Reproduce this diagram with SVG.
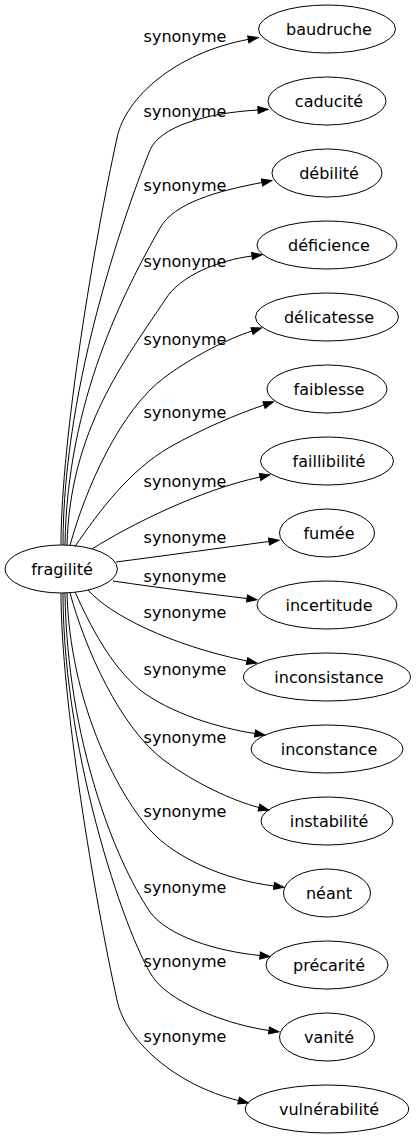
<svg xmlns="http://www.w3.org/2000/svg" width="416" height="1139" viewBox="0 0 416 1139">
<style>
.n ellipse{fill:none;stroke:#000;stroke-width:1}
.n text{font-family:"DejaVu Sans",sans-serif;font-size:16px;fill:#000;text-anchor:middle}
.e path{fill:none;stroke:#000;stroke-width:1;marker-end:url(#ah)}
.e text{font-family:"DejaVu Sans",sans-serif;font-size:16px;fill:#000;text-anchor:middle}
</style>
<defs>
<marker id="ah" markerUnits="userSpaceOnUse" markerWidth="11" markerHeight="8" refX="0" refY="3.5" orient="auto" overflow="visible">
<path d="M0,0 L10,3.5 L0,7 z" fill="#000" stroke="#000" stroke-width="1"/>
</marker>
</defs>
<rect width="416" height="1139" fill="#fff"/>
<g id="edges" class="e">
<path d="M61,545 C61,438 95,238 117,138 C125,98 175,53 248.3,39.4"/>
<text x="185" y="42">synonyme</text>
<path d="M63,545 C63,380 130,200 150,150 C160,127 205,113 258,110"/>
<text x="185" y="117">synonyme</text>
<path d="M65,545 C67,400 125,290 160,228 C174,203 217,191 262,182.5"/>
<text x="185" y="191">synonyme</text>
<path d="M67,545 C70,430 125,360 165,300 C180,275 220,260 252,256"/>
<text x="185" y="267">synonyme</text>
<path d="M70,545.5 C85,490 120,410 165,377 C195,355 230,338 252,331"/>
<text x="185" y="345">synonyme</text>
<path d="M75,546.5 C100,510 130,470 170,447 C200,430 237,414 264,405"/>
<text x="185" y="418">synonyme</text>
<path d="M92,549 C130,525 200,490 260,477"/>
<text x="185" y="487">synonyme</text>
<path d="M116,562 C170,555 220,548 269,541.5"/>
<text x="185" y="543">synonyme</text>
<path d="M113,581 C160,588 210,594 247,598.5"/>
<text x="185" y="582">synonyme</text>
<path d="M88,590 C110,615 170,645 247,661"/>
<text x="185" y="618">synonyme</text>
<path d="M75,592 C90,625 110,665 140,690 C170,713 218,728 255,733.5"/>
<text x="185" y="675">synonyme</text>
<path d="M70,593 C85,648 120,728 165,761 C195,783 232,800.5 259,807.5"/>
<text x="185" y="743">synonyme</text>
<path d="M67,593 C70,700 115,790 150,830 C175,858 225,880 274,886"/>
<text x="185" y="817">synonyme</text>
<path d="M65,593 C67,740 115,860 150,912 C168,936 215,951 260,955.5"/>
<text x="185" y="967">synonyme</text>
<path d="M63,593 C63,760 131,950 155,980 C175,1005 230,1025 269,1030.5"/>
<text x="185" y="893">synonyme</text>
<path d="M61,593 C61,700 95,900 117,1000 C125,1040 175,1085 238.6,1100.6"/>
<text x="185" y="1042">synonyme</text>
</g>
<g id="fragilite" class="n"><ellipse cx="61.2" cy="569" rx="56.2" ry="24"/><text x="62" y="575">fragilité</text></g>
<g id="baudruche" class="n"><ellipse cx="327" cy="29" rx="68.5" ry="24"/><text x="329" y="35">baudruche</text></g>
<g id="caducite" class="n"><ellipse cx="327" cy="101" rx="59" ry="24"/><text x="329" y="107">caducité</text></g>
<g id="debilite" class="n"><ellipse cx="327" cy="173" rx="55" ry="24"/><text x="329" y="179">débilité</text></g>
<g id="deficience" class="n"><ellipse cx="327" cy="245" rx="70" ry="24"/><text x="329" y="251">déficience</text></g>
<g id="delicatesse" class="n"><ellipse cx="327" cy="317" rx="71.5" ry="24"/><text x="329" y="323">délicatesse</text></g>
<g id="faiblesse" class="n"><ellipse cx="327" cy="389" rx="60" ry="24"/><text x="329" y="395">faiblesse</text></g>
<g id="faillibilite" class="n"><ellipse cx="327" cy="461" rx="66.5" ry="24"/><text x="329" y="467">faillibilité</text></g>
<g id="fumee" class="n"><ellipse cx="327" cy="533" rx="47.5" ry="24"/><text x="329" y="539">fumée</text></g>
<g id="incertitude" class="n"><ellipse cx="327" cy="605" rx="70" ry="24"/><text x="329" y="611">incertitude</text></g>
<g id="inconsistance" class="n"><ellipse cx="327" cy="677" rx="83.5" ry="24"/><text x="329" y="683">inconsistance</text></g>
<g id="inconstance" class="n"><ellipse cx="327" cy="749" rx="76" ry="24"/><text x="329" y="755">inconstance</text></g>
<g id="instabilite" class="n"><ellipse cx="327" cy="821" rx="66" ry="24"/><text x="329" y="827">instabilité</text></g>
<g id="neant" class="n"><ellipse cx="327" cy="893" rx="43.5" ry="24"/><text x="329" y="899">néant</text></g>
<g id="precarite" class="n"><ellipse cx="327" cy="965" rx="61" ry="24"/><text x="329" y="971">précarité</text></g>
<g id="vanite" class="n"><ellipse cx="327" cy="1037" rx="47.5" ry="24"/><text x="329" y="1043">vanité</text></g>
<g id="vulnerabilite" class="n"><ellipse cx="327" cy="1109" rx="81.7" ry="24"/><text x="329" y="1115">vulnérabilité</text></g>
</svg>
